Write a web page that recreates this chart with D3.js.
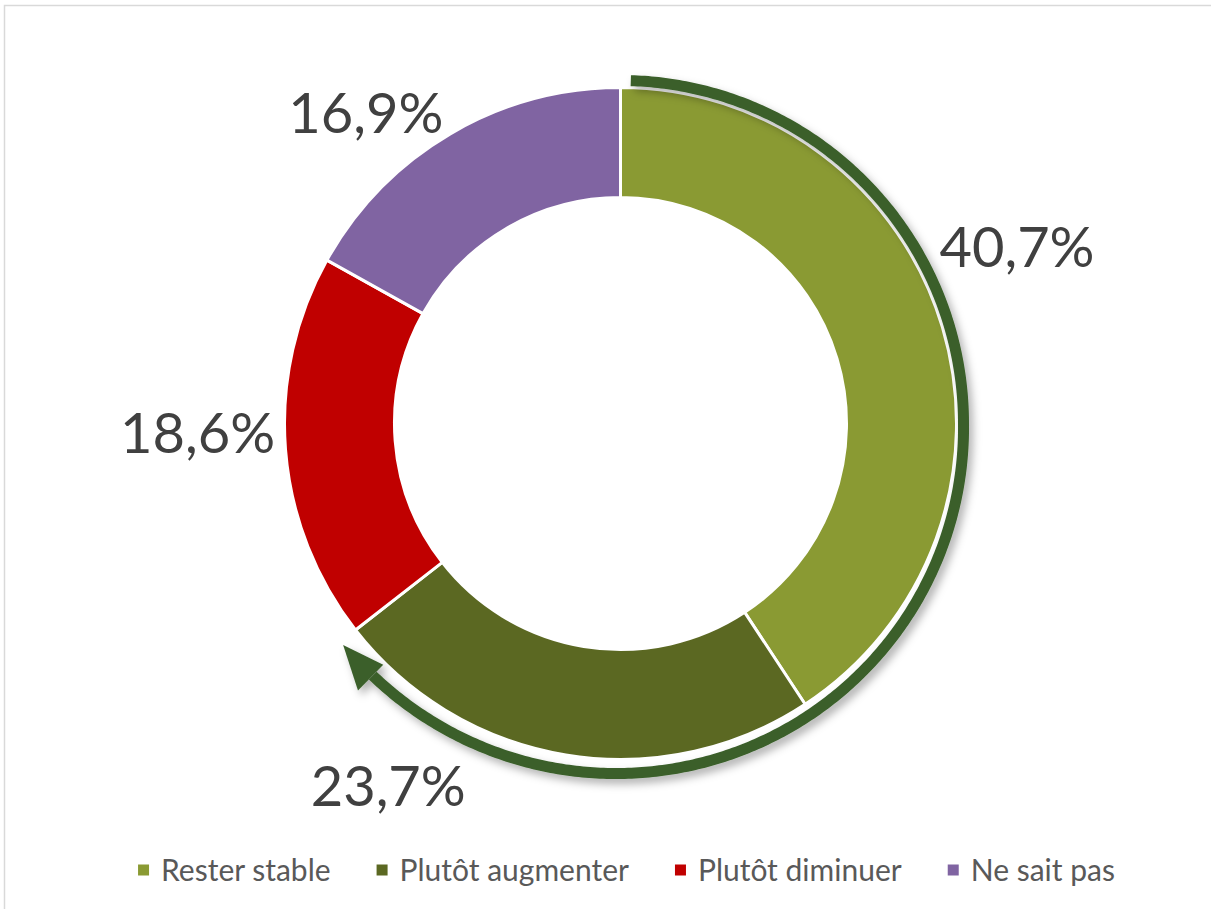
<!DOCTYPE html>
<html>
<head>
<meta charset="utf-8">
<script src="https://cdn.jsdelivr.net/npm/d3@7"></script>
<style>
  html, body { margin: 0; padding: 0; background: #fff; }
  #chart { width: 1211px; height: 909px; }
</style>
</head>
<body>
<div id="chart"></div>
<script>
// Data
const categories = ["Rester stable", "Plutôt augmenter", "Plutôt diminuer", "Ne sait pas"];
const shares = [40.7, 23.7, 18.6, 16.9];
const labels = ["40,7%", "23,7%", "18,6%", "16,9%"];
const colors = ["#8A9A33", "#5B6822", "#C00000", "#8064A2"];

const width = 1211;
const height = 909;
const cx = 620.5;
const cy = 423.5;
const outerR = 336;
const innerR = 226;

const svg = d3.select("#chart").append("svg")
  .attr("width", width)
  .attr("height", height);

// Chart area border (top + left only visible)
svg.append("path")
  .attr("d", `M4.5,${height}V5.5H${width}`)
  .attr("fill", "none")
  .attr("stroke", "#D9D9D9")
  .attr("stroke-width", 1.5);

const defs = svg.append("defs");
const shadow = defs.append("filter")
  .attr("id", "arrow-shadow")
  .attr("x", "-20%").attr("y", "-20%")
  .attr("width", "140%").attr("height", "140%");
shadow.append("feDropShadow")
  .attr("dx", 4)
  .attr("dy", 5)
  .attr("stdDeviation", 4)
  .attr("flood-color", "#000")
  .attr("flood-opacity", 0.3);

const g = svg.append("g")
  .attr("transform", `translate(${cx},${cy})`);

const pie = d3.pie()
  .sort(null)
  .value(d => d)
  .startAngle(0)
  .endAngle(2 * Math.PI);

const arcs = pie(shares);

const arc = d3.arc()
  .innerRadius(innerR)
  .outerRadius(outerR);

// Donut slices
g.selectAll(".slice")
  .data(arcs)
  .join("path")
  .attr("class", "slice")
  .attr("d", arc)
  .attr("fill", (d, i) => colors[i])
  .attr("stroke", "#fff")
  .attr("stroke-width", 3)
  .attr("stroke-linejoin", "round");

// Curved arrow running over the first two slices
const arrowEnd = arcs[1].endAngle - 0.012;
const arrowStart = 0.03;
const headLen = 0.12;
const bandW = 11;
const bandR = a => 343 + 7 * Math.max(0, a - Math.PI / 2) / (Math.PI / 2);
const pt = (a, r) => [r * Math.sin(a), -r * Math.cos(a)];

const bodyAngles = d3.range(arrowStart, arrowEnd - headLen, 0.01).concat([arrowEnd - headLen]);

const arrowG = g.append("g")
  .attr("filter", "url(#arrow-shadow)");

arrowG.append("path")
  .attr("d", d3.areaRadial()
    .angle(a => a)
    .innerRadius(a => bandR(a) - bandW / 2)
    .outerRadius(a => bandR(a) + bandW / 2)(bodyAngles))
  .attr("fill", "#3A5F2A");

const baseA = arrowEnd - headLen;
const baseR = bandR(baseA) + 3;
arrowG.append("path")
  .attr("d", d3.line()([
    pt(baseA, baseR - 18),
    pt(arrowEnd, bandR(arrowEnd) + 1),
    pt(baseA, baseR + 18)
  ]) + "Z")
  .attr("fill", "#3A5F2A");

// Data labels (manually placed around the ring, as in the source)
const labelPlace = [
  { angle: 66.0, r: 434 },
  { angle: 212.7, r: 430 },
  { angle: 268.7, r: 423 },
  { angle: 320.7, r: 402 }
];

g.selectAll(".value-label")
  .data(arcs)
  .join("text")
  .attr("class", "value-label")
  .attr("x", (d, i) => pt(labelPlace[i].angle * Math.PI / 180, labelPlace[i].r)[0])
  .attr("y", (d, i) => pt(labelPlace[i].angle * Math.PI / 180, labelPlace[i].r)[1])
  .attr("dy", "0.36em")
  .attr("text-anchor", "middle")
  .attr("font-family", "Lato, 'Open Sans', sans-serif")
  .attr("font-size", "56px")
  .attr("fill", "#404040")
  .text((d, i) => labels[i]);

// Legend
const legendY = 870;
const legend = svg.append("g");
const items = legend.selectAll(".legend-item")
  .data(categories)
  .join("g")
  .attr("class", "legend-item");

items.append("rect")
  .attr("width", 11)
  .attr("height", 11)
  .attr("y", legendY - 5.5)
  .attr("fill", (d, i) => colors[i]);

items.append("text")
  .attr("x", 23)
  .attr("y", legendY)
  .attr("dy", "0.35em")
  .attr("font-family", "Lato, 'Open Sans', sans-serif")
  .attr("font-size", "30px")
  .attr("fill", "#595959")
  .text(d => d);

// Flow items left to right, centred under the chart
const gap = 46;
let xPos = 0;
const offsets = [];
items.each(function() {
  offsets.push(xPos);
  xPos += this.getBBox().width + gap;
});
const totalW = xPos - gap;
const startX = 626.5 - totalW / 2;
items.attr("transform", (d, i) => `translate(${startX + offsets[i]},0)`);
</script>
</body>
</html>
